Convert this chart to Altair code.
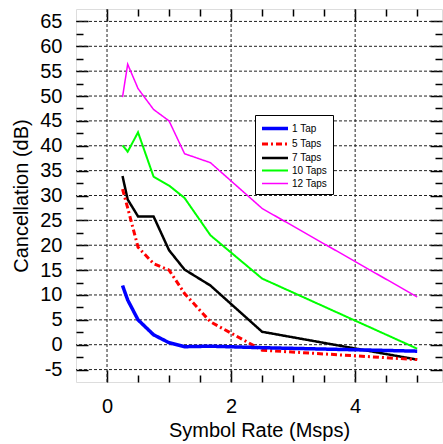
import altair as alt
import pandas as pd

# ---- data ----
rate = [0.25, 0.333, 0.5, 0.75, 1.0, 1.25, 1.667, 2.5, 5.0]
tap1 = [11.9, 9.0, 5.0, 2.0, 0.4, -0.4, -0.3, -0.6, -1.3]
tap5 = [31.3, 27.5, 19.6, 16.3, 15.0, 10.3, 4.6, -1.1, -3.0]
tap7 = [33.9, 29.2, 25.8, 25.8, 19.0, 15.1, 11.9, 2.6, -3.0]
tap10 = [40.1, 38.8, 42.7, 33.8, 32.0, 29.5, 22.0, 13.3, -0.8]
tap12 = [49.8, 56.4, 51.5, 47.3, 45.0, 38.4, 36.6, 27.4, 9.6]

series = ["1 Tap", "5 Taps", "7 Taps", "10 Taps", "12 Taps"]
values_by_series = {"1 Tap": tap1, "5 Taps": tap5, "7 Taps": tap7,
                    "10 Taps": tap10, "12 Taps": tap12}
colors = ["#0000ff", "#ff0000", "#000000", "#00ff00", "#ff00ff"]
widths = [3.5, 1.5, 1.5, 1.5, 1.5]
dashes = [[1, 0], [6, 3, 2, 3], [1, 0], [1, 0], [1, 0]]

x_labels = [0, 2, 4]
y_labels = list(range(-5, 70, 5))
x_minor = [0.5, 1, 1.5, 2.5, 3, 3.5, 4.5, 5]
y_minor = [-2.5 + 5 * i for i in range(0, 14)]

# draw order: blue last (on top)
rows = []
for s in ["12 Taps", "10 Taps", "7 Taps", "5 Taps", "1 Tap"]:
    for r, v in zip(rate, values_by_series[s]):
        rows.append({"rate": r, "db": v, "series": s})
df = pd.DataFrame(rows)

FONT = "Liberation Sans"
W, H = 366, 373

xs = alt.Scale(domain=[-0.5, 5.4], nice=False, zero=False)
ys = alt.Scale(domain=[-7.5, 67.5], nice=False, zero=False)

# dashed grid lines
gx = alt.Chart(pd.DataFrame({"gx": x_labels})).mark_rule(
    color="#222222", strokeDash=[3, 2], strokeWidth=1
).encode(x=alt.X("gx:Q", scale=xs, axis=None))
gy = alt.Chart(pd.DataFrame({"gy": y_labels})).mark_rule(
    color="#222222", strokeDash=[3, 2], strokeWidth=1
).encode(y=alt.Y("gy:Q", scale=ys, axis=None))

lines = alt.Chart(df).mark_line(clip=True).encode(
    x=alt.X("rate:Q", scale=xs, axis=alt.Axis(
        orient="bottom", values=x_labels, title="Symbol Rate (Msps)",
        grid=False, ticks=False, domain=False, labelPadding=14, labelFontSize=20,
        titleFontSize=20, titleFontWeight="normal", titlePadding=4,
        labelColor="black", titleColor="black", labelFont=FONT, titleFont=FONT)),
    y=alt.Y("db:Q", scale=ys, axis=alt.Axis(
        orient="left", values=y_labels, title="Cancellation (dB)",
        grid=False, ticks=False, domain=False, labelPadding=14, labelFontSize=20,
        labelOverlap=False, labelExpr="datum.value + ''",
        titleFontSize=20, titleFontWeight="normal", titlePadding=8,
        labelColor="black", titleColor="black", labelFont=FONT, titleFont=FONT)),
    color=alt.Color("series:N", scale=alt.Scale(domain=series, range=colors),
                    legend=alt.Legend(orient="none", legendX=179, legendY=106,
                                      title=None, strokeColor="black",
                                      fillColor="white", padding=5,
                                      labelFontSize=10, labelFont=FONT,
                                      labelColor="black",
                                      symbolType="M-1,0H3", symbolSize=169,
                                      rowPadding=0, labelOffset=15)),
    strokeDash=alt.StrokeDash("series:N", scale=alt.Scale(domain=series, range=dashes)),
    strokeWidth=alt.StrokeWidth("series:N", scale=alt.Scale(domain=series, range=widths)),
)


def tick_layer(xorient, yorient, xvals, yvals, size):
    common = dict(labels=False, domain=False, grid=False, title=None,
                  ticks=True, tickColor="black", tickWidth=1.5)
    return alt.Chart(df).mark_point(opacity=0).encode(
        x=alt.X("rate:Q", scale=xs, axis=alt.Axis(orient=xorient, offset=-H,
                                                  values=xvals, tickSize=size, **common)),
        y=alt.Y("db:Q", scale=ys, axis=alt.Axis(orient=yorient, offset=-W,
                                                values=yvals, tickSize=size, **common)),
    )


t1 = tick_layer("bottom", "right", x_labels, y_labels, 12)
t2 = tick_layer("bottom", "right", x_minor, y_minor, 7)
t3 = tick_layer("top", "left", x_labels, y_labels, 12)
t4 = tick_layer("top", "left", x_minor, y_minor, 7)

chart = alt.layer(gx, gy, lines, t1, t2, t3, t4).resolve_axis(
    x="independent", y="independent"
).properties(
    width=W, height=H,
    autosize=alt.AutoSizeParams(type="none"),
    padding={"left": 76, "top": 9, "right": 1, "bottom": 62},
).configure_view(
    stroke="black", strokeWidth=2
).configure_legend(
    strokeWidth=1.5
).configure(
    font=FONT, background="white"
)

chart.save("out.html", embed_options={"renderer": "svg", "actions": False})
